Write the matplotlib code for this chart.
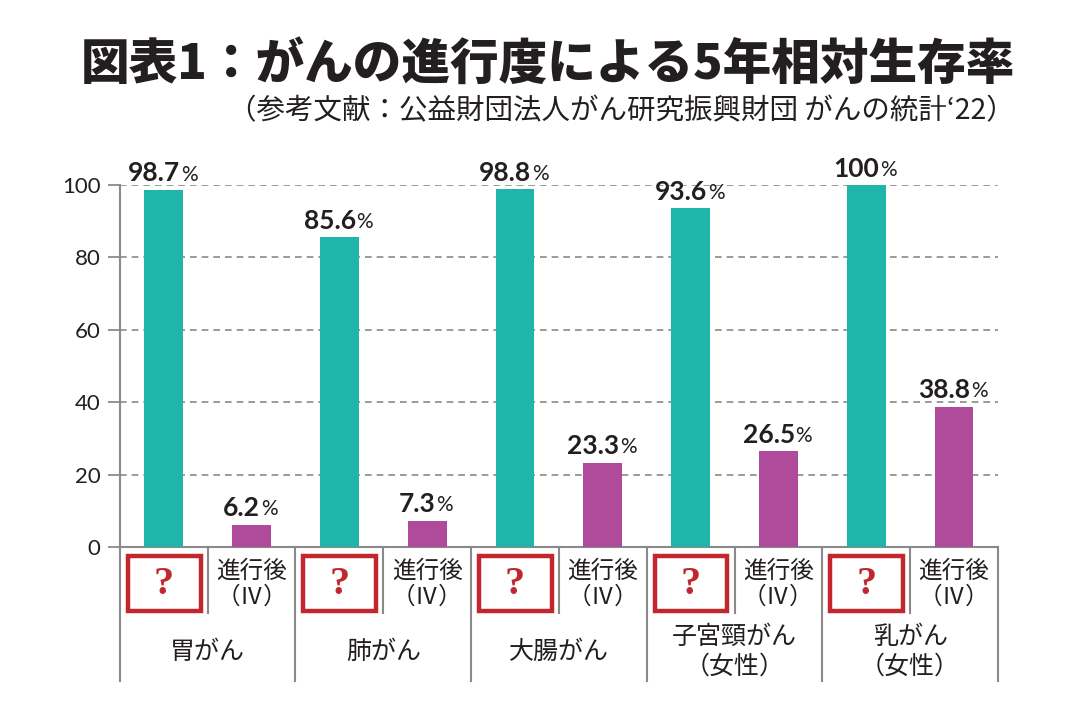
import matplotlib
matplotlib.use("Agg")
import matplotlib.pyplot as plt
from matplotlib.patches import Rectangle
import matplotlib.transforms as mtransforms

plt.rcParams['font.family'] = ['Noto Sans CJK JP', 'DejaVu Sans']

groups = ["胃がん", "肺がん", "大腸がん", "子宮頸がん\n（女性）", "乳がん\n（女性）"]
early = [98.7, 85.6, 98.8, 93.6, 100]
advanced = [6.2, 7.3, 23.3, 26.5, 38.8]
early_labels = ["98.7", "85.6", "98.8", "93.6", "100"]
adv_labels = ["6.2", "7.3", "23.3", "26.5", "38.8"]
sub_early = "?"
sub_adv = "進行後\n（Ⅳ）"
yticks = [0, 20, 40, 60, 80, 100]

teal = "#1fb5a8"
purple = "#b04a9a"
red = "#c1272d"
gray = "#8a8a8a"
dark = "#231f20"

fig = plt.figure(figsize=(10.8, 7.2), dpi=100)
ax = fig.add_axes([0.111, 0.2403, 0.813, 0.5027])

n = len(groups)
xe = [i + 0.25 for i in range(n)]
xa = [i + 0.75 for i in range(n)]
w = 0.22
ax.bar(xe, early, width=w, color=teal, zorder=3)
ax.bar(xa, advanced, width=w, color=purple, zorder=3)

ax.set_xlim(0, n)
ax.set_ylim(0, 100)
ax.set_yticks(yticks)
ax.set_yticklabels([str(t) for t in yticks], fontsize=16, color=dark, family=['Lato', 'DejaVu Sans'])
ax.set_xticks([])
ax.tick_params(axis='y', length=9, width=1.3, color=gray, pad=5)
for y in yticks[1:]:
    ax.axhline(y, color=gray, lw=1.2, ls=(0, (4, 3)), zorder=1)
for s in ['top', 'right']:
    ax.spines[s].set_visible(False)
for s in ['left', 'bottom']:
    ax.spines[s].set_color(gray)
    ax.spines[s].set_linewidth(1.5)


def value_label(x, v, txt):
    t = ax.annotate(txt, xy=(x, v), xytext=(-7, 6), textcoords='offset points',
                    ha='center', va='baseline', fontsize=19, fontweight='bold',
                    color=dark, family=['Lato', 'DejaVu Sans'], annotation_clip=False)
    ax.annotate('%', xy=(1, 0), xycoords=t, xytext=(0.5, 0.6), textcoords='offset points',
                ha='left', va='bottom', fontsize=15, color=dark,
                family=['Lato', 'DejaVu Sans'], annotation_clip=False)


for x, v, s in zip(xe, early, early_labels):
    value_label(x, v, s)
for x, v, s in zip(xa, advanced, adv_labels):
    value_label(x, v, s)

trans = mtransforms.blended_transform_factory(ax.transData, ax.transAxes)
for i in range(n):
    rect = Rectangle((i + 0.045, -0.178), 0.415, 0.152, transform=trans,
                     fill=False, edgecolor=red, lw=3.2, clip_on=False)
    ax.add_patch(rect)
    ax.text(i + 0.25, -0.104, sub_early, transform=trans, ha='center', va='center',
            fontsize=29, fontweight='bold', color=red, family=['Liberation Serif', 'DejaVu Serif'])
    ax.text(i + 0.75, -0.102, sub_adv, transform=trans, ha='center', va='center',
            fontsize=17, color=dark, linespacing=1.15)
    ax.plot([i + 0.5, i + 0.5], [0, -0.183], transform=trans, color=gray, lw=1.5, clip_on=False)
    ax.text(i + 0.5, -0.29, groups[i], transform=trans, ha='center', va='center',
            fontsize=18, color=dark, linespacing=1.2)
for i in range(n + 1):
    ax.plot([i, i], [0, -0.37], transform=trans, color=gray, lw=1.5, clip_on=False)

fig.text(0.94, 0.91, "図表1：がんの進行度による5年相対生存率", ha='right', va='center',
         fontsize=35, fontweight='black', color=dark)
fig.text(0.94, 0.845, "（参考文献：公益財団法人がん研究振興財団 がんの統計‘22）", ha='right', va='center',
         fontsize=20.5, color=dark)

fig.savefig("out.png", dpi=100)
